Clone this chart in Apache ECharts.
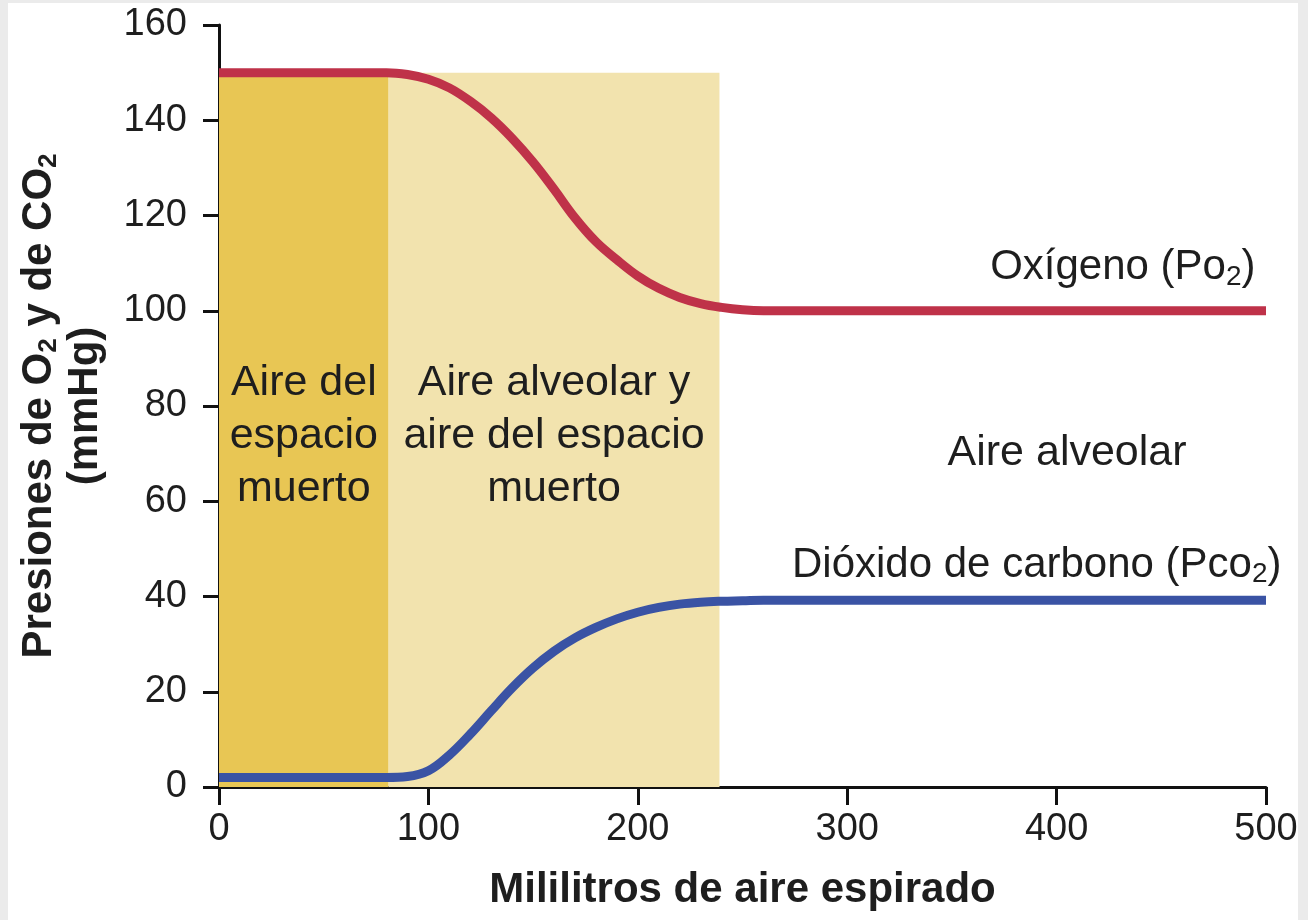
<!DOCTYPE html>
<html>
<head>
<meta charset="utf-8">
<script src="https://cdn.jsdelivr.net/npm/echarts@6/dist/echarts.min.js"></script>
<style>
  html, body { margin: 0; padding: 0; background: #ebebeb; }
  #panel { position: absolute; left: 8px; top: 3px; width: 1290px; height: 917px; background: #ffffff; }
  #main { position: absolute; left: 0; top: 0; width: 1308px; height: 920px; }
</style>
</head>
<body>
<div id="panel"></div>
<div id="main"></div>
<script>
// mililitros de aire espirado
let volumen = [0, 40, 80, 90, 100, 110, 120, 130, 140, 150, 160, 170, 180, 190, 200, 210, 220, 230, 240, 250, 260, 300, 400, 500]
// presion de O2 (mmHg)
let po2 = [150, 150, 150, 149.6, 148.6, 146.8, 144, 140.5, 136.2, 131.2, 125.5, 119.5, 114.5, 110.7, 107.3, 104.7, 102.8, 101.5, 100.7, 100.2, 100, 100, 100, 100]
// presion de CO2 (mmHg)
let pco2 = [2, 2, 2, 2.2, 3.4, 6.7, 11.1, 16, 20.8, 25, 28.5, 31.3, 33.5, 35.3, 36.7, 37.7, 38.4, 38.8, 39, 39.1, 39.2, 39.2, 39.2, 39.2]
// zonas sombreadas [inicio, fin, altura]
let zonaMuerta = [0, 81, 150]
let zonaMixta = [81, 239, 150]
let xTicks = [0, 100, 200, 300, 400, 500]
let yTicks = [0, 20, 40, 60, 80, 100, 120, 140, 160]

let myChart = echarts.init(document.getElementById('main'))

const font = "'Liberation Sans', Arial, Helvetica, sans-serif"
const textColor = '#1e1e1e'

let toPairs = function (ys) {
  return volumen.map(function (v, i) { return [v, ys[i]] })
}

let option = {
  backgroundColor: 'transparent',
  animation: false,
  grid: {
    left: 219,
    right: 42,
    top: 25,
    bottom: 133,
  },
  xAxis: {
    type: 'value',
    min: xTicks[0],
    max: xTicks[xTicks.length - 1],
    interval: 100,
    name: 'Mililitros de aire espirado',
    nameLocation: 'middle',
    nameGap: 82,
    nameTextStyle: {
      fontFamily: font,
      fontWeight: 'bold',
      fontSize: 42,
      color: textColor,
    },
    splitLine: { show: false },
    axisLine: { lineStyle: { color: '#111', width: 3 } },
    axisTick: { length: 18, lineStyle: { color: '#111', width: 3 } },
    axisLabel: {
      margin: 24,
      fontFamily: font,
      fontSize: 38,
      color: textColor,
    },
  },
  yAxis: {
    type: 'value',
    min: yTicks[0],
    max: yTicks[yTicks.length - 1],
    interval: 20,
    name: '{b|Presiones de O}{s|2}{b| y de CO}{s|2}\n{b|(mmHg)}',
    nameLocation: 'middle',
    nameRotate: 90,
    nameGap: 111,
    nameTextStyle: {
      align: 'center',
      rich: {
        b: { fontFamily: font, fontWeight: 'bold', fontSize: 42, color: textColor, lineHeight: 46 },
        s: { fontFamily: font, fontWeight: 'bold', fontSize: 26, color: textColor, lineHeight: 46, verticalAlign: 'bottom', padding: [14, 0, 0, 0] },
      },
    },
    splitLine: { show: false },
    axisLine: { lineStyle: { color: '#111', width: 3 } },
    axisTick: { length: 16, lineStyle: { color: '#111', width: 3 } },
    axisLabel: {
      margin: 32,
      fontFamily: font,
      fontSize: 38,
      color: textColor,
    },
  },
  series: [
    {
      name: 'Oxígeno',
      type: 'line',
      data: toPairs(po2),
      smooth: 0.4,
      symbol: 'none',
      z: 3,
      lineStyle: { color: '#bf3249', width: 9 },
      markArea: {
        silent: true,
        label: {
          show: true,
          position: 'inside',
          offset: [0, 6],
          fontFamily: font,
          fontSize: 43,
          lineHeight: 53,
          color: textColor,
        },
        data: [
          [
            { name: 'Aire del\nespacio\nmuerto', xAxis: zonaMuerta[0], yAxis: 0, itemStyle: { color: '#e8c654' } },
            { xAxis: zonaMuerta[1], yAxis: zonaMuerta[2] },
          ],
          [
            { name: 'Aire alveolar y\naire del espacio\nmuerto', xAxis: zonaMixta[0], yAxis: 0, itemStyle: { color: '#f2e3ae' } },
            { xAxis: zonaMixta[1], yAxis: zonaMixta[2] },
          ],
        ],
      },
      markPoint: {
        silent: true,
        symbol: 'circle',
        symbolSize: 1,
        itemStyle: { color: 'rgba(0,0,0,0)' },
        data: [
          {
            coord: [500, 109],
            label: {
              show: true,
              position: 'left',
              distance: 10,
              formatter: '{t|Oxígeno (P}{t|o}{s|2}{t|)}',
              rich: {
                t: { fontFamily: font, fontSize: 42, color: textColor, lineHeight: 46 },
                s: { fontFamily: font, fontSize: 28, color: textColor, lineHeight: 46, verticalAlign: 'bottom', padding: [14, 0, 0, 0] },
              },
            },
          },
          {
            coord: [405, 70],
            label: {
              show: true,
              position: 'inside',
              formatter: 'Aire alveolar',
              fontFamily: font,
              fontSize: 43,
              color: textColor,
            },
          },
        ],
      },
    },
    {
      name: 'Dióxido de carbono',
      type: 'line',
      data: toPairs(pco2),
      smooth: 0.4,
      symbol: 'none',
      z: 3,
      lineStyle: { color: '#3a53a4', width: 9 },
      markPoint: {
        silent: true,
        symbol: 'circle',
        symbolSize: 1,
        itemStyle: { color: 'rgba(0,0,0,0)' },
        data: [
          {
            coord: [500, 46.5],
            label: {
              show: true,
              position: 'left',
              distance: 0,
              offset: [16, 0],
              formatter: '{t|Dióxido de carbono (P}{t|co}{s|2}{t|)}',
              rich: {
                t: { fontFamily: font, fontSize: 42, color: textColor, lineHeight: 46 },
                s: { fontFamily: font, fontSize: 28, color: textColor, lineHeight: 46, verticalAlign: 'bottom', padding: [14, 0, 0, 0] },
              },
            },
          },
        ],
      },
    },
  ],
}

myChart.clear()
myChart.setOption(option)
</script>
</body>
</html>
